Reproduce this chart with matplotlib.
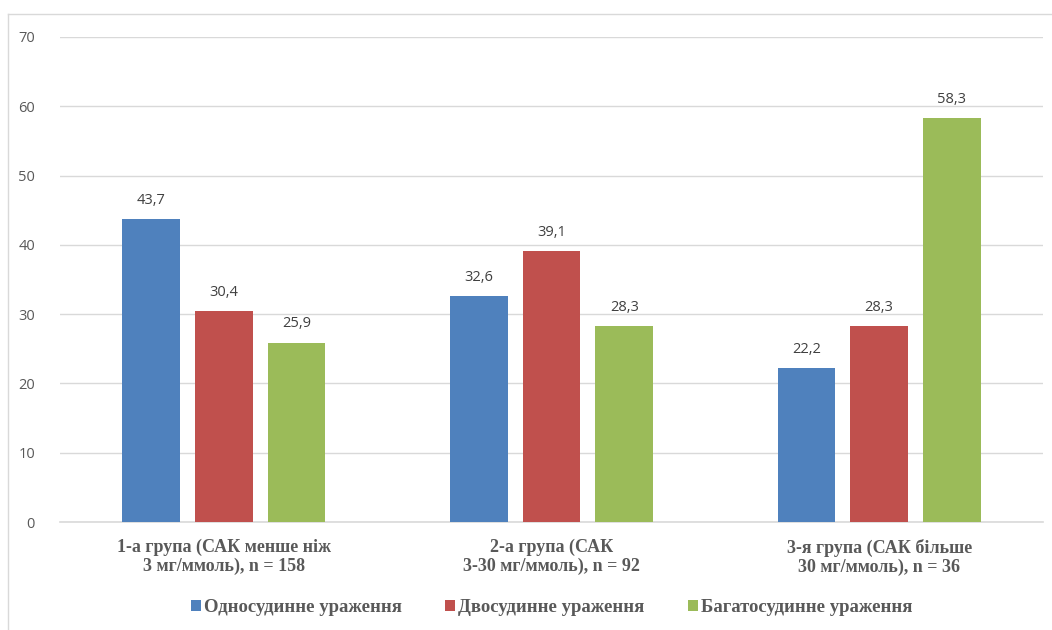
import matplotlib
matplotlib.use("Agg")
import matplotlib.pyplot as plt
import numpy as np

categories = ["1-а група (САК менше ніж\n3 мг/ммоль), n = 158",
              "2-а група (САК\n3-30 мг/ммоль), n = 92",
              "3-я група (САК більше\n30 мг/ммоль), n = 36"]
series_names = ["Односудинне ураження", "Двосудинне ураження", "Багатосудинне ураження"]
single = [43.7, 32.6, 22.2]
double = [30.4, 39.1, 28.3]
multi = [25.9, 28.3, 58.3]
colors = ["#4F81BD", "#C0504D", "#9BBB59"]
yticks = [0, 10, 20, 30, 40, 50, 60, 70]


def main():
    fig = plt.figure(figsize=(10.52, 6.3), dpi=100)
    ax = fig.add_axes([60 / 1052, 108 / 630, 983 / 1052, 485 / 630])

    x = np.arange(len(categories))
    width = 0.176
    offsets = [-0.222, 0.0, 0.222]
    for vals, name, col, off in zip([single, double, multi], series_names, colors, offsets):
        bars = ax.bar(x + off, vals, width, color=col, label=name, zorder=3)
        for b, v in zip(bars, vals):
            ax.text(b.get_x() + b.get_width() / 2, v + 1.6, f"{v:.1f}".replace(".", ","),
                    ha="center", va="bottom", fontsize=10.5, color="#404040",
                    family="Open Sans")

    ax.set_xlim(-0.5, 2.5)
    ax.set_ylim(0, 70)
    ax.set_yticks(yticks)
    ax.yaxis.grid(True, color="#D9D9D9", linewidth=1, zorder=0)
    ax.tick_params(axis="y", length=0, pad=18, labelsize=10.5, labelcolor="#595959")
    for t in ax.get_yticklabels():
        t.set_family("Open Sans")
    ax.set_xticks(x)
    ax.set_xticklabels(categories, fontsize=13, fontweight="bold", color="#595959",
                       family="Liberation Serif", linespacing=1.15)
    ax.tick_params(axis="x", length=0, pad=12)
    for s in ["top", "right", "left"]:
        ax.spines[s].set_visible(False)
    ax.spines["bottom"].set_color("#D9D9D9")
    ax.spines["bottom"].set_linewidth(1.2)

    leg = ax.legend(loc="center", bbox_to_anchor=(0.5, -0.176), ncol=3, frameon=False,
                    handlelength=0.55, handleheight=0.55, handletextpad=0.15, columnspacing=2.3,
                    prop={"family": "Liberation Serif", "weight": "bold", "size": 13.5})
    for t in leg.get_texts():
        t.set_color("#595959")

    # chart border (left and top edges visible)
    fig.add_artist(plt.Line2D([8 / 1052, 8 / 1052], [0, 1 - 14 / 630], color="#D9D9D9",
                              linewidth=1, transform=fig.transFigure))
    fig.add_artist(plt.Line2D([8 / 1052, 1], [1 - 14 / 630, 1 - 14 / 630], color="#D9D9D9",
                              linewidth=1, transform=fig.transFigure))

    fig.savefig("out.png", dpi=100)


if __name__ == "__main__":
    main()
